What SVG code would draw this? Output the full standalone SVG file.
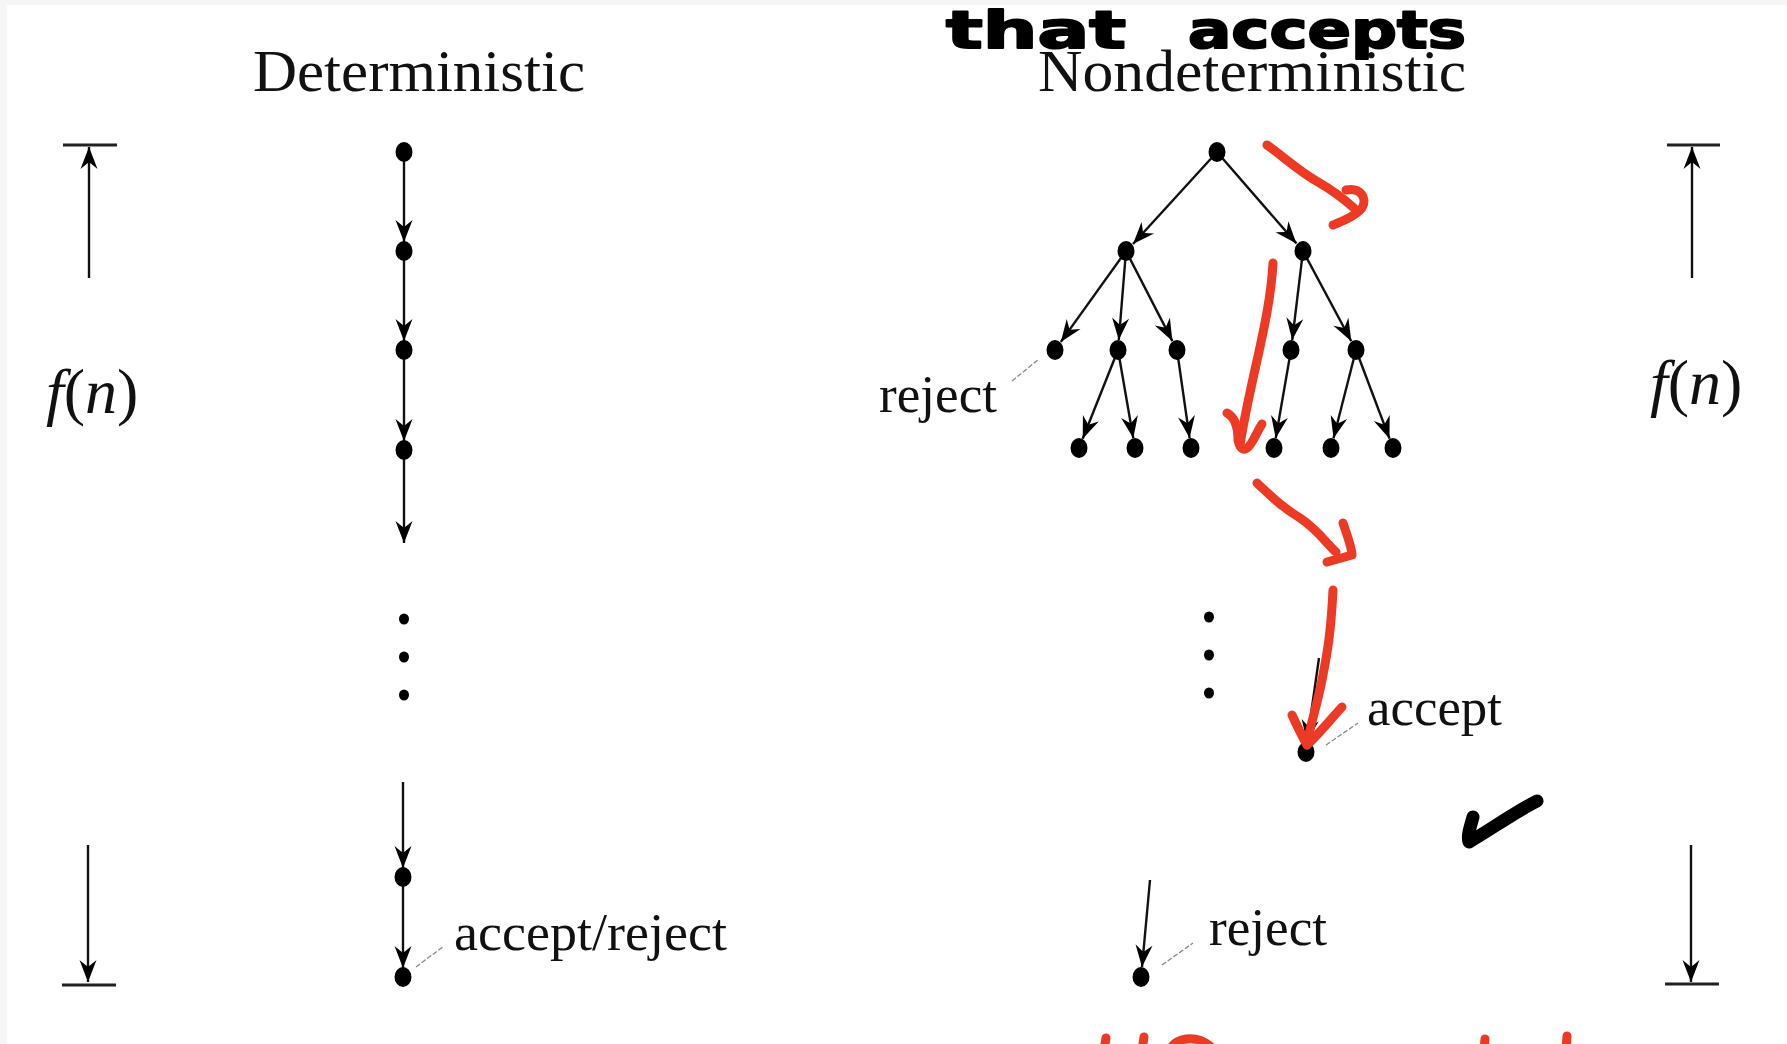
<svg xmlns="http://www.w3.org/2000/svg" width="1787" height="1044" viewBox="0 0 1787 1044">
<style>
.lbl{font-family:"Liberation Serif","Times New Roman",serif;fill:#111}
.title{font-size:60px}
.small{font-size:52px}
.fn{font-family:"Liberation Serif","Times New Roman",serif;font-size:64px;fill:#111}
.it{font-style:italic}
.edge{stroke:#111;stroke-width:2.4;fill:none;marker-end:url(#ah)}
.bar{stroke:#222;stroke-width:3;fill:none}
.lead{stroke:#888;stroke-width:1.3;fill:none;stroke-dasharray:5 2}
.node{fill:#000}
.red{stroke:#ec3a25;stroke-width:9;fill:none;stroke-linecap:round;stroke-linejoin:round}
.hand{font-family:"DejaVu Sans",sans-serif;font-weight:bold;font-size:52px;fill:#000;stroke:#000;stroke-width:2;stroke-linejoin:round}
</style>
<defs>
<marker id="ah" markerUnits="userSpaceOnUse" markerWidth="25" markerHeight="22" viewBox="-23 -11 25 22" refX="0" refY="0" orient="auto">
<path d="M0,0 L-22,-8.5 L-15,0 L-22,8.5 Z" fill="#000"/>
</marker>
</defs>
<rect x="0" y="0" width="1787" height="1044" fill="#f6f6f6"/>
<rect x="7" y="5" width="1780" height="1039" fill="#ffffff"/>

<g id="titles">
<text class="lbl title" x="253" y="91" textLength="332" lengthAdjust="spacingAndGlyphs">Deterministic</text>
<text class="lbl title" x="1038" y="91" textLength="428" lengthAdjust="spacingAndGlyphs">Nondeterministic</text>
</g>

<g id="connectors">
<line class="edge" x1="89" y1="278" x2="89" y2="147"/>
<line class="edge" x1="88" y1="845" x2="88" y2="982"/>
<line class="edge" x1="1692" y1="278" x2="1692" y2="147"/>
<line class="edge" x1="1691" y1="845" x2="1691" y2="982"/>
<line class="edge" x1="404" y1="152" x2="404" y2="242"/>
<line class="edge" x1="404" y1="251" x2="404" y2="341"/>
<line class="edge" x1="404" y1="350" x2="404" y2="441"/>
<line class="edge" x1="404" y1="450" x2="404" y2="543"/>
<line class="edge" x1="403" y1="782" x2="403" y2="868"/>
<line class="edge" x1="403" y1="877" x2="403" y2="968"/>
<line class="edge" x1="1217" y1="152" x2="1133" y2="244"/>
<line class="edge" x1="1217" y1="152" x2="1296.4" y2="243.4"/>
<line class="edge" x1="1126" y1="251" x2="1060.8" y2="341.9"/>
<line class="edge" x1="1126" y1="251" x2="1118.8" y2="340"/>
<line class="edge" x1="1126" y1="251" x2="1172.4" y2="341.1"/>
<line class="edge" x1="1303" y1="251" x2="1292.2" y2="340.1"/>
<line class="edge" x1="1303" y1="251" x2="1351.3" y2="341.2"/>
<line class="edge" x1="1118" y1="350" x2="1082.7" y2="438.7"/>
<line class="edge" x1="1118" y1="350" x2="1133.3" y2="438.2"/>
<line class="edge" x1="1177" y1="350" x2="1189.6" y2="438.1"/>
<line class="edge" x1="1291" y1="350" x2="1275.7" y2="438.2"/>
<line class="edge" x1="1356" y1="350" x2="1333.5" y2="438.3"/>
<line class="edge" x1="1356" y1="350" x2="1389.5" y2="438.7"/>
<line class="edge" x1="1319" y1="658" x2="1307" y2="742"/>
<line class="edge" x1="1150" y1="880" x2="1142" y2="967"/>
<line class="lead" x1="416" y1="967" x2="444" y2="946"/>
<line class="lead" x1="1012" y1="381" x2="1039" y2="359"/>
<line class="lead" x1="1326" y1="745" x2="1358" y2="723"/>
<line class="lead" x1="1162" y1="965" x2="1193" y2="943"/>
</g>

<g id="bracket-left">
<line class="bar" x1="63" y1="145" x2="117" y2="145"/>
<line class="bar" x1="62" y1="985" x2="116" y2="985"/>
<text class="fn" x="46" y="413"><tspan class="it">f</tspan>(<tspan class="it">n</tspan>)</text>
</g>
<g id="bracket-right">
<line class="bar" x1="1667" y1="145" x2="1720" y2="145"/>
<line class="bar" x1="1665" y1="984" x2="1719" y2="984"/>
<text class="fn" x="1650" y="404"><tspan class="it">f</tspan>(<tspan class="it">n</tspan>)</text>
</g>

<g id="det-n1"><ellipse class="node" cx="404" cy="152" rx="8.5" ry="10"/></g>
<g id="det-n2"><ellipse class="node" cx="404" cy="251" rx="8.5" ry="10"/></g>
<g id="det-n3"><ellipse class="node" cx="404" cy="350" rx="8.5" ry="10"/></g>
<g id="det-n4"><ellipse class="node" cx="404" cy="450" rx="8.5" ry="10"/></g>
<g id="det-dots">
<ellipse class="node" cx="404" cy="619" rx="5" ry="5.5"/>
<ellipse class="node" cx="404" cy="657" rx="5" ry="5.5"/>
<ellipse class="node" cx="404" cy="695" rx="5" ry="5.5"/>
</g>
<g id="det-n5"><ellipse class="node" cx="403" cy="877" rx="8.5" ry="10"/></g>
<g id="det-final"><ellipse class="node" cx="403" cy="977" rx="8.5" ry="10"/>
<text class="lbl small" x="454" y="950" textLength="273" lengthAdjust="spacingAndGlyphs">accept/reject</text></g>

<g id="nd-root"><ellipse class="node" cx="1217" cy="152" rx="8.5" ry="10"/></g>
<g id="nd-l1a"><ellipse class="node" cx="1126" cy="251" rx="8.5" ry="10"/></g>
<g id="nd-l1b"><ellipse class="node" cx="1303" cy="251" rx="8.5" ry="10"/></g>
<g id="nd-l2a"><ellipse class="node" cx="1055" cy="350" rx="8.5" ry="10"/>
<text class="lbl small" x="879" y="412" textLength="118" lengthAdjust="spacingAndGlyphs">reject</text></g>
<g id="nd-l2b"><ellipse class="node" cx="1118" cy="350" rx="8.5" ry="10"/></g>
<g id="nd-l2c"><ellipse class="node" cx="1177" cy="350" rx="8.5" ry="10"/></g>
<g id="nd-l2d"><ellipse class="node" cx="1291" cy="350" rx="8.5" ry="10"/></g>
<g id="nd-l2e"><ellipse class="node" cx="1356" cy="350" rx="8.5" ry="10"/></g>
<g id="nd-l3a"><ellipse class="node" cx="1079" cy="448" rx="8.5" ry="10"/></g>
<g id="nd-l3b"><ellipse class="node" cx="1135" cy="448" rx="8.5" ry="10"/></g>
<g id="nd-l3c"><ellipse class="node" cx="1191" cy="448" rx="8.5" ry="10"/></g>
<g id="nd-l3d"><ellipse class="node" cx="1274" cy="448" rx="8.5" ry="10"/></g>
<g id="nd-l3e"><ellipse class="node" cx="1331" cy="448" rx="8.5" ry="10"/></g>
<g id="nd-l3f"><ellipse class="node" cx="1393" cy="448" rx="8.5" ry="10"/></g>
<g id="nd-dots">
<ellipse class="node" cx="1209" cy="617" rx="5" ry="5.5"/>
<ellipse class="node" cx="1209" cy="655" rx="5" ry="5.5"/>
<ellipse class="node" cx="1209" cy="693" rx="5" ry="5.5"/>
</g>
<g id="nd-accept"><ellipse class="node" cx="1306" cy="752" rx="8.5" ry="10"/>
<text class="lbl small" x="1367" y="725" textLength="135" lengthAdjust="spacingAndGlyphs">accept</text></g>
<g id="nd-reject"><ellipse class="node" cx="1141" cy="977" rx="8.5" ry="10"/>
<text class="lbl small" x="1209" y="945" textLength="118" lengthAdjust="spacingAndGlyphs">reject</text></g>

<g id="annotations">
<text class="hand" x="946" y="48" textLength="180" lengthAdjust="spacingAndGlyphs">that</text>
<text class="hand" x="1188" y="48" textLength="278" lengthAdjust="spacingAndGlyphs">accepts</text>
<path class="red" d="M1267,145 C1285,158 1300,172 1318,182 C1332,190 1345,200 1354,208"/>
<path class="red" d="M1346,190 C1360,187 1368,198 1362,208 C1355,216 1345,220 1333,225"/>
<path class="red" d="M1273,263 C1270,320 1250,380 1240,445"/>
<path class="red" d="M1227,413 C1236,418 1238,430 1238,440 C1240,450 1245,452 1250,445 C1255,438 1258,430 1262,424"/>
<path class="red" d="M1257,483 C1272,497 1282,507 1300,518 C1318,530 1326,543 1336,552"/>
<path class="red" d="M1343,523 C1347,535 1352,548 1352,555 L1327,562"/>
<path class="red" d="M1333,590 C1331,630 1328,650 1322,680 C1316,710 1310,725 1307,745"/>
<path class="red" d="M1292,715 C1298,728 1303,738 1307,745 C1318,735 1330,720 1342,707"/>
<path d="M1473,817 C1470,828 1467,836 1469,842 C1490,830 1515,812 1537,801" stroke="#000" stroke-width="13" fill="none" stroke-linecap="round" stroke-linejoin="round"/>
<path class="red" d="M1104,1050 L1106,1038"/>
<path class="red" d="M1142,1050 L1144,1037"/>
<path class="red" d="M1170,1050 C1175,1038 1195,1034 1210,1046"/>
<path class="red" d="M1484,1050 L1485,1039"/>
<path class="red" d="M1566,1050 L1567,1036"/>
</g>
</svg>
